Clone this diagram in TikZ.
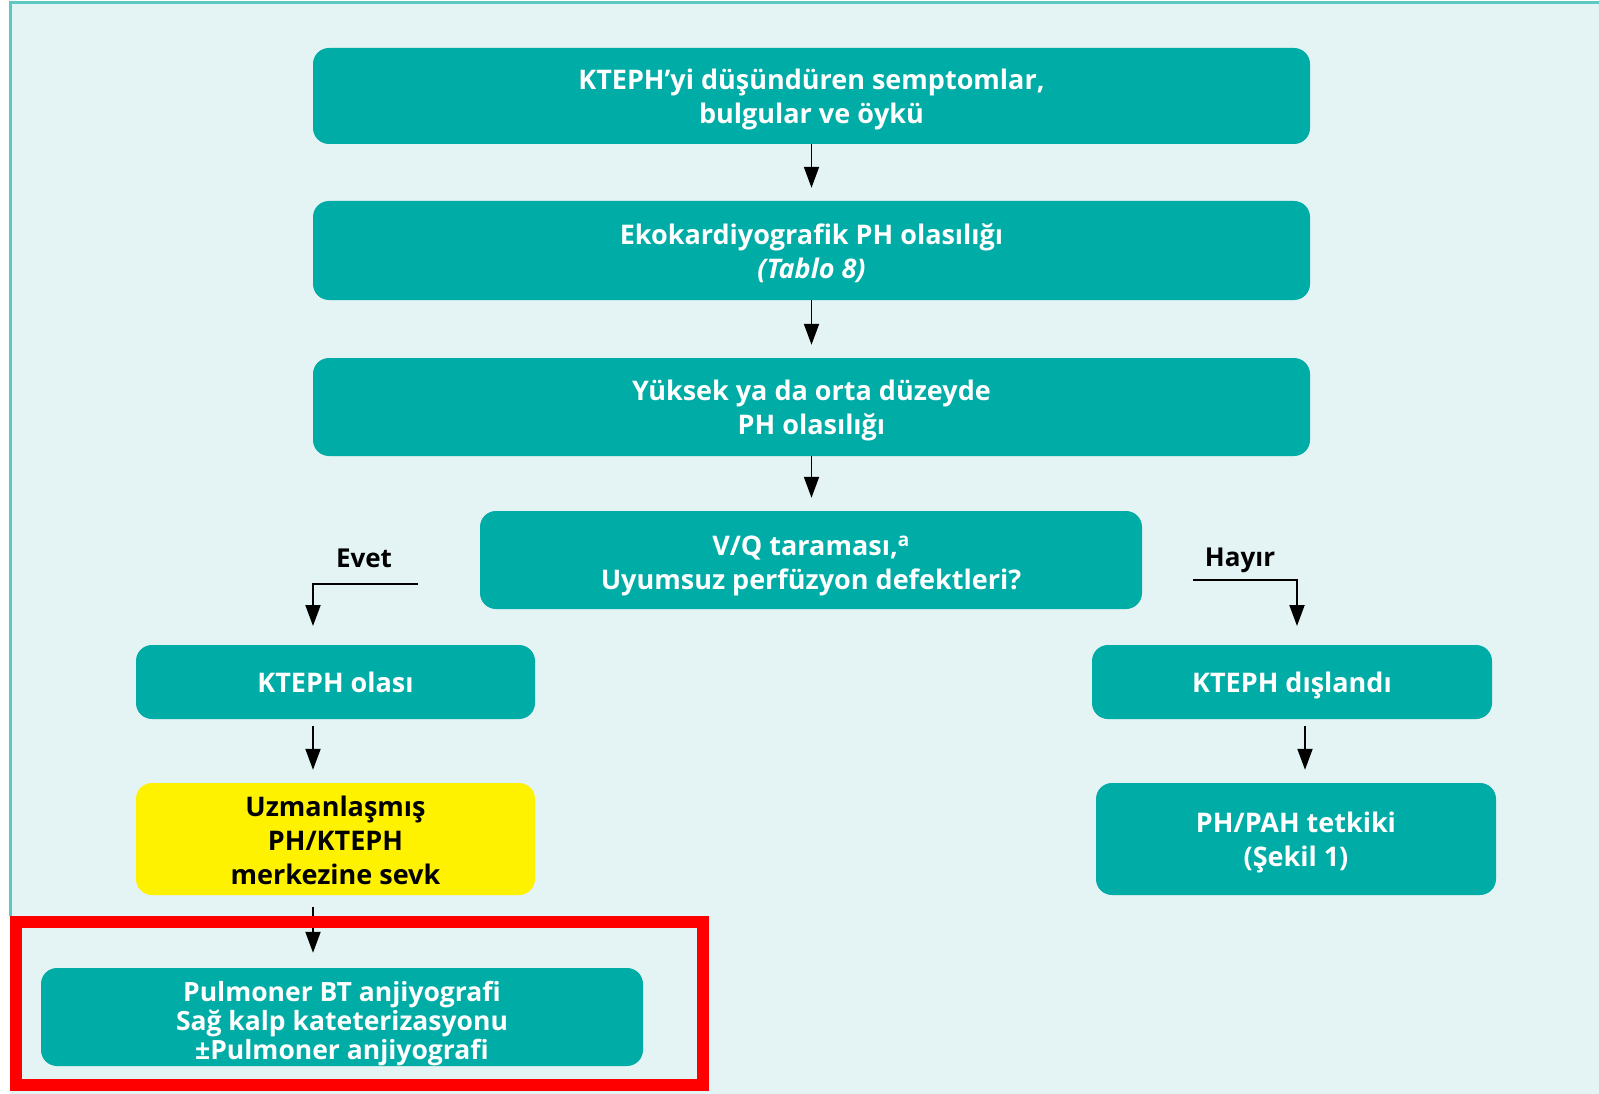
\documentclass[tikz,border=0pt]{standalone}
\usepackage{fontspec}
\setmainfont{Open Sans}
\usetikzlibrary{arrows.meta,calc}
\definecolor{tealbox}{HTML}{00ACA6}
\definecolor{bglight}{HTML}{E4F3F3}
\definecolor{bordert}{HTML}{5CC8C1}
\definecolor{yellowbox}{HTML}{FFF200}
\definecolor{redframe}{HTML}{FF0000}
\begin{document}
\begin{tikzpicture}[x=1pt,y=-1pt,
  tbox/.style={rounded corners=16pt, inner sep=0pt, fill=tealbox},
  ybox/.style={rounded corners=16pt, inner sep=0pt, fill=yellowbox},
  wtxt/.style={align=center, inner sep=0pt, text=white,
    font=\fontsize{27}{34}\selectfont\bfseries},
  btxt/.style={wtxt, text=black},
  arr/.style={line width=1.9pt, -{Triangle[width=15pt,length=21pt]}},
  lbl/.style={font=\fontsize{26}{30}\selectfont\bfseries, text=black, inner sep=0pt}]
\useasboundingbox (0,0) rectangle (1599,1094);
\fill[white] (0,0) rectangle (1599,1094);
\fill[bglight] (10,3) rectangle (1599,1094);
\draw[bordert, line width=3pt] (10,916) -- (10,3) -- (1599,3);

\node[tbox, minimum width=997pt, minimum height=96pt] (b1) at (811.5,96) {};
\node[wtxt] (b1t) at ([yshift=-3pt]b1.center)
  {KTEPH’yi düşündüren semptomlar,\\bulgular ve öykü};
\node[tbox, minimum width=997pt, minimum height=99pt] (b2) at (811.5,250.5) {};
\node[wtxt] (b2t) at ([yshift=-3pt]b2.center)
  {Ekokardiyografik PH olasılığı\\\textit{(Tablo 8)}};
\node[tbox, minimum width=997pt, minimum height=98pt] (b3) at (811.5,407) {};
\node[wtxt] (b3t) at ([yshift=-3.5pt]b3.center)
  {Yüksek ya da orta düzeyde\\PH olasılığı};
\node[tbox, minimum width=662pt, minimum height=98pt] (b4) at (811,560) {};
\node[wtxt] (b4t) at ([yshift=-5.5pt]b4.center)
  {V/Q taraması,\textsuperscript{a}\\Uyumsuz perfüzyon defektleri?};
\node[tbox, minimum width=399pt, minimum height=74pt] (olasi) at (335.5,682) {};
\node[wtxt] (olasit) at (olasi.center) {KTEPH olası};
\node[ybox, minimum width=399pt, minimum height=112pt] (sevk) at (335.5,839) {};
\node[btxt] (sevkt) at ([yshift=-1pt]sevk.center)
  {Uzmanlaşmış\\PH/KTEPH\\merkezine sevk};
\node[tbox, minimum width=602pt, minimum height=98pt] (pulm) at (342,1017) {};
\node[wtxt, font=\fontsize{26.5}{29}\selectfont\bfseries] (pulmt) at ([yshift=-6.5pt]pulm.center)
  {Pulmoner BT anjiyografi\\Sağ kalp kateterizasyonu\\±Pulmoner anjiyografi};
\node[tbox, minimum width=400pt, minimum height=74pt] (disl) at (1292,682) {};
\node[wtxt] (dislt) at ([yshift=-3pt]disl.center) {KTEPH dışlandı};
\node[tbox, minimum width=400pt, minimum height=112pt] (phpah) at (1296,839) {};
\node[wtxt] (phpaht) at ([yshift=-3.5pt]phpah.center)
  {PH/PAH tetkiki\\(Şekil 1)};

\node[lbl] (evet) at (364,558) {Evet};
\node[lbl] (hayir) at (1240,560) {Hayır};

\coordinate (evs) at (418,584);
\coordinate (eve) at (313,626);
\coordinate (hys) at (1193,580);
\coordinate (hye) at (1297,626);

\draw[arr] (b1.south) -- ([yshift=13pt]b1.south |- b2.north);
\draw[arr] (b2.south) -- ([yshift=13pt]b2.south |- b3.north);
\draw[arr] (b3.south) -- ([yshift=13pt]b3.south |- b4.north);
\draw[arr] (evs) -| (eve);
\draw[arr] (hys) -| (hye);
\draw[arr] ([xshift=-22.5pt,yshift=-7pt]olasi.south) -- ([xshift=-22.5pt,yshift=13pt]olasi.south |- sevk.north);
\draw[arr] ([xshift=-22.5pt,yshift=-12pt]sevk.south) -- ([xshift=-22.5pt,yshift=15pt]sevk.south |- pulm.north);
\draw[arr] ([xshift=13pt,yshift=-7pt]disl.south) -- ([xshift=13pt,yshift=13pt]disl.south |- phpah.north);

\draw[redframe, line width=12pt] (16,922) rectangle (703,1085);
\end{tikzpicture}
\end{document}
